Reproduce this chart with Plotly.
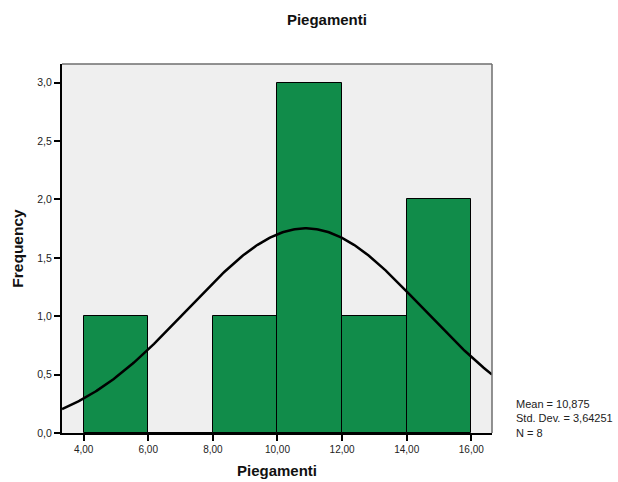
import numpy as np
import plotly.graph_objects as go

# Histogram bins (lower edges), bin width and counts
bin_starts = [4, 6, 8, 10, 12, 14]
bin_width = 2
counts = [1, 0, 1, 3, 1, 2]

# Summary statistics
mean = 10.875
std_dev = 3.64251
n = 8

x_ticks = [4, 6, 8, 10, 12, 14, 16]
x_tick_labels = ["4,00", "6,00", "8,00", "10,00", "12,00", "14,00", "16,00"]
y_ticks = [0, 0.5, 1.0, 1.5, 2.0, 2.5, 3.0]
y_tick_labels = ["0,0", "0,5", "1,0", "1,5", "2,0", "2,5", "3,0"]

x_range = [3.33, 16.64]
y_range = [0, 3.16]

font_family = "Liberation Sans, Arial, sans-serif"

fig = go.Figure()

centers = [s + bin_width / 2 for s in bin_starts]
fig.add_trace(go.Bar(
    x=centers, y=counts, width=bin_width,
    marker=dict(color="#118c4a", line=dict(color="#000000", width=1)),
    hoverinfo="skip",
))

# Normal curve scaled to frequency (N * bin width)
xs = np.linspace(x_range[0], x_range[1], 300)
ys = n * bin_width * np.exp(-0.5 * ((xs - mean) / std_dev) ** 2) / (std_dev * np.sqrt(2 * np.pi))
fig.add_trace(go.Scatter(
    x=xs, y=ys, mode="lines",
    line=dict(color="#000000", width=2.5),
    hoverinfo="skip",
))

fig.update_layout(
    width=618, height=482,
    margin=dict(l=62, r=126, t=64, b=49),
    paper_bgcolor="#ffffff",
    plot_bgcolor="#efefef",
    showlegend=False,
    bargap=0,
    font=dict(family=font_family, size=10, color="#222222"),
    title=dict(
        text="<b>Piegamenti</b>", x=0.529, xanchor="center", y=0.96, yanchor="middle",
        font=dict(family=font_family, size=15, color="#111111"),
    ),
    xaxis=dict(
        range=x_range, tickvals=x_ticks, ticktext=x_tick_labels,
        showgrid=False, zeroline=False, automargin=False,
        showline=True, linecolor="#000000", linewidth=2,
        ticks="outside", ticklen=6, tickwidth=1.5, tickcolor="#000000",
        tickfont=dict(size=10, color="#222222"),
        title=dict(text="<b>Piegamenti</b>", font=dict(size=15, color="#111111"), standoff=11),
        mirror=False,
    ),
    yaxis=dict(
        range=y_range, tickvals=y_ticks, ticktext=y_tick_labels,
        showgrid=False, zeroline=False, automargin=False,
        showline=True, linecolor="#000000", linewidth=2,
        ticks="outside", ticklen=6, tickwidth=1.5, tickcolor="#000000",
        tickfont=dict(size=10.5, color="#222222"),
        title=dict(text="<b>Frequency</b>", font=dict(size=15.5, color="#111111"), standoff=10),
    ),
    shapes=[
        # Top and right frame of the plotting area
        dict(type="line", xref="paper", yref="paper", x0=0, x1=1, y0=1, y1=1,
             line=dict(color="#6e6e6e", width=1.5)),
        dict(type="line", xref="paper", yref="paper", x0=1, x1=1, y0=0, y1=1,
             line=dict(color="#6e6e6e", width=1.5)),
    ],
    annotations=[
        dict(
            text=f"Mean = 10,875<br>Std. Dev. = 3,64251<br>N = {n}",
            xref="paper", yref="paper", x=1.05, y=0.04, xanchor="left", yanchor="middle",
            align="left", showarrow=False,
            font=dict(family=font_family, size=11, color="#222222"),
        ),
    ],
)

fig.write_html("out.html")
